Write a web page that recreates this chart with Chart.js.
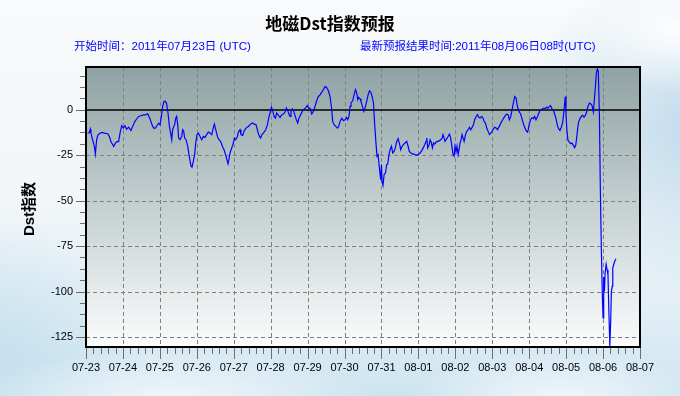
<!DOCTYPE html>
<html>
<head>
<meta charset="utf-8">
<title>地磁Dst指数预报</title>
<script src="https://cdn.jsdelivr.net/npm/chart.js@4.4.0/dist/chart.umd.min.js"></script>
<style>
  body { margin: 0; }
  #wrap {
    width: 680px; height: 396px;
    background:
      radial-gradient(140px 90px at 675px 30px, rgba(255,255,255,.9), rgba(255,255,255,0) 70%),
      radial-gradient(260px 220px at 705px 130px, rgba(188,216,234,.95), rgba(188,216,234,0) 75%),
      radial-gradient(300px 80px at 170px 405px, rgba(255,255,255,.75), rgba(255,255,255,0) 70%),
      radial-gradient(220px 70px at 560px 400px, rgba(255,255,255,.7), rgba(255,255,255,0) 70%),
      radial-gradient(200px 190px at -10px 370px, rgba(196,223,238,.95), rgba(196,223,238,0) 80%),
      linear-gradient(180deg, #f8fafb 0%, #f2f6f8 50%, #e0eef5 80%, #cde4f0 100%);
  }
</style>
</head>
<body>
<div id="wrap"><canvas id="dstChart" width="680" height="396"></canvas></div>
<script>
// hours since 2011-07-23 00:00 UTC
const hours = [
  1.1, 2.2, 2.8, 3.2, 4.3, 5.4, 6.1, 6.9, 7.8, 9.1, 10.4, 11.9, 14.1, 15.2, 16.2, 18.0, 19.1, 20.1, 21.2, 22.1,
  23.2, 24.3, 25.3, 26.4, 27.7, 29.2, 30.3, 31.8, 32.9, 34.2, 35.7, 37.3, 38.6, 40.1, 40.7, 41.8, 42.9, 44.0, 45.1, 46.1,
  47.2, 48.1, 49.0, 49.8, 50.7, 51.6, 52.4, 53.3, 54.2, 55.0, 55.7, 56.3, 57.0, 57.6, 58.3, 58.9, 59.6, 60.2, 61.1, 62.2,
  62.8, 63.5, 64.1, 65.0, 66.1, 67.1, 68.2, 68.9, 69.7, 70.6, 71.3, 72.1, 73.0, 74.1,
  75.2, 76.3, 77.3, 78.4, 79.5, 80.6, 81.7, 82.8, 83.4, 84.3, 85.4, 86.4, 87.5, 88.6, 89.7, 90.6, 91.4, 92.3, 93.6, 94.7,
  95.8, 96.4, 97.3, 98.4, 99.0, 100.1, 100.7, 101.8, 102.9, 104.0, 105.5, 107.0, 108.3, 109.4, 110.5, 111.6, 112.7, 113.5, 114.4, 115.7,
  116.8, 117.9, 118.7, 119.6, 120.5, 121.3, 122.2, 123.1, 123.9, 125.0, 126.1, 127.2, 128.3, 129.3, 130.2, 131.1, 131.9, 132.6, 133.2, 134.1,
  135.0, 135.8, 136.7, 137.6, 138.4, 139.5, 140.8, 141.9, 143.0, 143.8, 144.7,
  145.6, 146.7, 147.8, 148.8, 149.9, 151.0, 152.1, 153.2, 154.3, 155.3, 156.4, 157.5, 158.6, 159.7, 160.3, 161.2, 162.3, 163.4, 164.2, 165.1,
  166.2, 167.3, 168.3, 169.4, 170.1, 170.9, 171.6, 172.2, 173.3, 174.2, 175.1, 175.9, 176.6, 177.2, 178.1, 178.7, 179.6, 180.5, 181.3, 182.4,
  183.3, 184.2, 185.0, 185.9, 186.8, 187.6, 188.5, 189.1, 189.8, 190.4, 191.1, 191.5, 192.0, 192.4, 193.0, 193.7, 194.6, 195.4, 196.1, 196.9,
  197.6, 198.5, 199.3, 200.2, 201.0, 201.9, 202.8, 203.6, 204.5, 205.4, 206.2, 207.3, 208.4, 209.3, 210.1, 211.2, 212.3,
  213.2, 214.5, 215.8, 217.1, 218.2, 219.3, 220.1, 221.0, 221.4, 222.1, 223.0, 223.6, 224.2, 225.1, 225.8, 226.6, 227.5, 228.6, 229.7, 230.5,
  231.4, 232.0, 232.7, 233.3, 234.4, 235.3, 236.2, 237.0, 237.9, 238.5, 239.2, 239.8, 240.5, 241.1, 241.8, 242.4, 243.1, 243.7, 244.4, 245.0,
  245.7, 246.6, 247.4, 248.3, 249.2, 250.0, 250.9, 251.8, 252.6, 253.5, 254.4, 255.2, 256.1, 257.0, 257.8, 258.7, 259.6, 260.4, 261.3, 262.2,
  263.0, 263.9, 264.8, 265.6, 266.5, 267.4, 268.2, 269.1, 269.9, 270.8, 271.7, 272.5, 273.4, 274.3, 275.1, 276.0, 276.9, 277.7, 278.6, 279.5,
  280.1, 280.8,
  281.6, 282.4, 283.3, 284.2, 285.0, 285.9, 286.8, 287.4, 288.1, 288.9, 289.8, 290.7, 291.5, 292.4, 293.3, 294.1, 295.0, 295.9, 296.7, 297.6,
  298.5, 299.3, 300.2, 301.1, 301.9, 302.8, 303.7, 304.5, 305.4, 306.3, 307.1, 308.0, 308.9, 309.7, 310.4, 311.0, 311.5, 311.9, 312.5, 313.2,
  314.1, 314.9, 315.8, 316.7, 317.5, 318.2, 318.8, 319.5, 320.1, 321.0, 321.9, 322.7, 323.6, 324.5, 325.3, 326.2, 327.1, 327.9, 328.8, 329.7,
  330.3, 331.0, 331.6, 332.3, 332.9,
  333.6, 334.2, 334.9, 335.5, 336.0, 336.4, 336.9, 337.3, 338.0, 338.6, 339.2, 339.8, 340.4, 341.0, 341.4, 342.0, 342.3, 343.0, 343.7, 344.4
];

const dst = [
  -12.9, -12.5, -10.7, -12.9, -16.5, -20, -24.3, -16.5, -13.8, -12.9, -12.5, -12.9, -13.2, -14.7, -17.5, -20.2, -18.4, -17.5, -17.5, -12.9,
  -8.8, -10.1, -8.8, -10.7, -9.6, -11.4, -9.2, -6.4, -5.1, -3.7, -3.3, -2.8, -2.8, -2.2, -3.3, -5.5, -8.3, -10.1, -10.1, -8.8,
  -7.4, -8.3, -3.7, 1.8, 4.6, 4.6, 3.3, -1.8, -9.2, -12.9, -16.5, -11, -9.2, -8.3, -4.6, -3.7, -8.3, -15.6, -16.5, -14.7,
  -11, -11.9, -15.6, -16.5, -20.2, -25.7, -30.9, -31.6, -28.5, -24.8, -18.4, -13.8, -12.9, -14.7,
  -16.5, -14.7, -15.2, -13.7, -12.3, -12.8, -13.7, -9.7, -7.9, -11, -14.7, -16.5, -17.4, -20.1, -22, -24.4, -27, -29.8, -23.8, -21,
  -18.3, -15.6, -16.5, -14.7, -12.3, -11, -13.7, -14.1, -11.5, -10.1, -9.2, -7.9, -7.3, -7.9, -8.2, -11.9, -14.7, -15.6, -13.7, -12.3,
  -11, -8.2, -4.6, -1.8, 1.3, -0.5, -3.7, -4.6, -1.8, -3.1, -4.2, -2.7, -2.4, -1.3, 0.9, -0.5, -2.4, -3.7, -0.9, 0.5,
  -0.9, -3.1, -5.5, -7.3, -4.6, -2.7, -0.5, 0.5, 1.3, 2.4, 0.9,
  0.9, -2.4, -0.9, 1.8, 4.9, 7.3, 8.2, 9.7, 11, 12.8, 12.3, 10.4, 7.3, 0, -6.4, -8.2, -9.2, -10.1, -9.2, -6.4,
  -4.6, -6, -5.5, -4.2, -5.5, -3.7, 1.8, 3.7, 4.9, 8.2, 11, 9.2, 5.5, 6.8, 6, 4.6, 1.8, -0.9, 0.9, 4.6,
  8.2, 10.4, 9.7, 7.3, 3.7, -8.2, -19.2, -25.6, -24.7, -29.8, -35.7, -38.5, -30.2, -39.7, -41.6, -35.7, -34.8, -30.2, -29.8, -24.7,
  -22, -20.1, -23.8, -22.9, -21, -17.4, -15.9, -18.3, -22, -20.1, -19.2, -18.3, -17.4, -20.1, -22.9, -23.8, -24.4,
  -24.4, -25.1, -24.7, -23.8, -22.5, -20.7, -19.2, -17.4, -15.6, -21, -19.2, -16.5, -17.4, -21, -18.3, -18.9, -17.8, -17.4, -17, -16.5,
  -15.6, -13.7, -15.6, -17.4, -15.9, -14.7, -13.4, -15.6, -21, -24.7, -25.6, -20.1, -22.9, -20.1, -24.7, -22, -18.3, -16.5, -13.7, -15.6,
  -17.4, -13.7, -11.9, -11, -9.7, -11, -9.7, -8.2, -5.5, -3.7, -2.7, -4.2, -4.6, -3.7, -4.2, -6.4, -7.3, -10.1, -11.9, -13.7,
  -12.8, -11.9, -10.4, -9.7, -10.1, -11, -9.7, -8.2, -6.8, -5.5, -4.2, -3.1, -2.4, -2.7, -5.5, -3.7, 0, 3.7, 7.3, 6.4,
  2.7, 0.5,
  -1.3, -2.2, -4.9, -7.7, -9.5, -11.4, -12.3, -11, -7.7, -5.5, -4.4, -4.9, -3.7, -5.5, -4, -2.2, -0.4, 0, 0.5, 0.9,
  0.5, 1.5, 0.9, 1.8, 2.2, 0.5, -0.4, -2.2, -4.9, -8.6, -10.4, -11.4, -9.5, -7.3, -2.2, 3.3, 7.3, -2.2, -11.4, -16.8,
  -17.8, -18.7, -18.3, -19.6, -20.9, -19.6, -15.9, -10.4, -6.8, -4.9, -3.7, -3.1, -4, -3.1, -1.3, 1.8, 3.7, 3.3, 2.4, -1.3,
  5.1, 12.5, 19.8, 22.5, 21,
  -2, -42, -77, -101, -114.5, -92, -100, -90, -85, -88, -91, -112, -130, -115, -100, -97, -87, -85, -83, -82
];

const xTickHours = [0, 24, 48, 72, 96, 120, 144, 168, 192, 216, 240, 264, 288, 312, 336, 360];
const xTickLabels = ['07-23', '07-24', '07-25', '07-26', '07-27', '07-28', '07-29', '07-30',
                     '07-31', '08-01', '08-02', '08-03', '08-04', '08-05', '08-06', '08-07'];
const yTickValues = [-125, -100, -75, -50, -25, 0];

const titleText = '地磁Dst指数预报';
const startText = '开始时间：2011年07月23日 (UTC)';
const latestText = '最新预报结果时间:2011年08月06日08时(UTC)';
const yTitle = 'Dst指数';

Chart.defaults.font.family = '"Liberation Sans", Arial, sans-serif';

// plot background, grid, border, tick marks and the texts around the chart
const frame = {
  id: 'frame',
  beforeDatasetsDraw(chart) {
    const { ctx, chartArea: a, scales: { x, y } } = chart;
    ctx.save();
    const g = ctx.createLinearGradient(0, a.top, 0, a.bottom);
    g.addColorStop(0, '#8fa2a3');
    g.addColorStop(0.5, '#c5d0d1');
    g.addColorStop(1, '#fbfcfc');
    ctx.fillStyle = g;
    ctx.fillRect(a.left, a.top, a.width, a.height);

    ctx.strokeStyle = '#808080';
    ctx.lineWidth = 1;
    ctx.setLineDash([4, 3]);
    xTickHours.forEach(h => {
      if (h <= x.min || h >= x.max) return;
      const px = Math.round(x.getPixelForValue(h)) + 0.5;
      ctx.beginPath(); ctx.moveTo(px, a.top); ctx.lineTo(px, a.bottom); ctx.stroke();
    });
    yTickValues.forEach(v => {
      if (v === 0) return;
      const py = Math.round(y.getPixelForValue(v)) + 0.5;
      ctx.beginPath(); ctx.moveTo(a.left, py); ctx.lineTo(a.right, py); ctx.stroke();
    });
    ctx.setLineDash([]);
    ctx.strokeStyle = '#000';
    ctx.lineWidth = 1.5;
    const z = Math.round(y.getPixelForValue(0));
    ctx.beginPath(); ctx.moveTo(a.left, z); ctx.lineTo(a.right, z); ctx.stroke();
    ctx.restore();
  },
  afterDatasetsDraw(chart) {
    const { ctx, chartArea: a, scales: { x, y } } = chart;
    ctx.save();
    // minor + major tick marks
    ctx.strokeStyle = '#6e6e6e';
    ctx.lineWidth = 1;
    for (let h = x.min; h <= x.max + 0.01; h += 4.8) {
      const major = Math.abs(h / 24 - Math.round(h / 24)) < 0.01;
      const px = Math.round(x.getPixelForValue(h)) + 0.5;
      ctx.beginPath(); ctx.moveTo(px, a.bottom); ctx.lineTo(px, a.bottom + (major ? 12 : 7)); ctx.stroke();
    }
    for (let v = -125; v <= y.max; v += 6.25) {
      const major = v % 25 === 0;
      const py = Math.round(y.getPixelForValue(v)) + 0.5;
      ctx.beginPath(); ctx.moveTo(a.left, py); ctx.lineTo(a.left - (major ? 10 : 6), py); ctx.stroke();
    }
    // border
    ctx.strokeStyle = '#000';
    ctx.lineWidth = 2;
    ctx.strokeRect(a.left, a.top, a.width, a.height);
    ctx.restore();
  },
  afterDraw(chart) {
    const { ctx } = chart;
    ctx.save();
    ctx.textBaseline = 'middle';
    ctx.fillStyle = '#000';
    ctx.textAlign = 'center';
    ctx.font = 'bold 17px "Noto Sans CJK SC", sans-serif';
    ctx.fillText(titleText, 330, 24);

    ctx.fillStyle = '#0000ff';
    ctx.textAlign = 'left';
    ctx.font = '11.5px "Liberation Sans", "Noto Sans CJK SC", sans-serif';
    ctx.fillText(startText, 74, 47);
    ctx.fillText(latestText, 360, 47);

    ctx.fillStyle = '#000';
    ctx.translate(30, 209);
    ctx.rotate(-Math.PI / 2);
    ctx.textAlign = 'center';
    ctx.font = 'bold 15px "Liberation Sans", "Noto Sans CJK SC", sans-serif';
    ctx.fillText(yTitle, 0, 0);
    ctx.restore();
  }
};

new Chart(document.getElementById('dstChart'), {
  type: 'line',
  data: {
    datasets: [{
      label: 'Dst',
      data: hours.map((h, i) => ({ x: h, y: dst[i] })),
      borderColor: '#0000ff',
      borderWidth: 1.2,
      pointRadius: 0,
      tension: 0,
      fill: false
    }]
  },
  options: {
    responsive: false,
    animation: false,
    devicePixelRatio: 1,
    layout: { padding: { left: 0, top: 67, right: 40, bottom: 0 } },
    plugins: { legend: { display: false }, tooltip: { enabled: false } },
    scales: {
      x: {
        type: 'linear',
        min: 0,
        max: 360,
        afterBuildTicks: s => { s.ticks = xTickHours.map(v => ({ value: v })); },
        afterFit: s => { s.height = 49; },
        grid: { display: false, drawTicks: false },
        border: { display: false },
        ticks: {
          autoSkip: false,
          maxRotation: 0,
          padding: 14,
          color: '#000',
          font: { size: 11 },
          callback: v => xTickLabels[xTickHours.indexOf(v)]
        }
      },
      y: {
        min: -130.5,
        max: 23.5,
        afterBuildTicks: s => { s.ticks = yTickValues.map(v => ({ value: v })); },
        afterFit: s => { s.width = 86; },
        grid: { display: false, drawTicks: false },
        border: { display: false },
        ticks: {
          padding: 13,
          color: '#000',
          font: { size: 11 },
          callback: v => String(v)
        }
      }
    }
  },
  plugins: [frame]
});
</script>
</body>
</html>
